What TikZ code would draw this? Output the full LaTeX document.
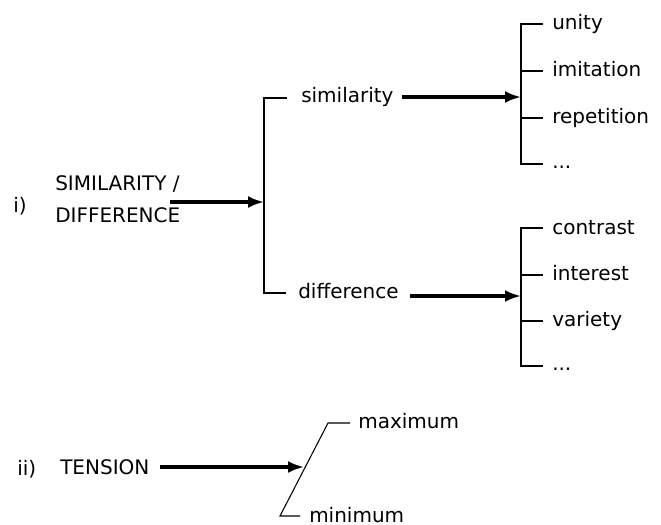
\documentclass[tikz,border=0pt]{standalone}
\usepackage{fontspec}
\setmainfont{DejaVu Sans}
\usetikzlibrary{arrows.meta}
\begin{document}
\begin{tikzpicture}[x=0.75pt,y=-0.75pt,
  lbl/.style={anchor=base west,inner sep=0pt,font=\fontsize{15}{18}\selectfont},
  br/.style={line width=1.5pt,line cap=rect},
  thinbr/.style={line width=0.8pt},
  arr/.style={line width=2.3pt,-{Latex[length=12pt,width=9pt]}}]
\useasboundingbox (0,0) rectangle (661,525);
% part i
\node[lbl] (i) at (13,212) {i)};
\node[lbl] (simA) at (55,190) {SIMILARITY /};
\node[lbl] (difA) at (55,222) {DIFFERENCE};
\coordinate (L1t) at (264,98);
\coordinate (L1b) at (264,293);
\draw[br] (L1t) ++(22,0) -- (L1t) -- (L1b) -- ++(21,0);
\coordinate (a1s) at (170,202);
\draw[arr] (a1s) -- (a1s -| L1t);
\node[lbl] (sim) at (301,102) {similarity};
\node[lbl] (dif) at (298,298) {difference};
% upper right bracket
\coordinate (R1t) at (521,24);
\coordinate (R1b) at (521,164);
\draw[br] (R1t) ++(21,0) -- (R1t) -- (R1b) -- ++(21,0);
\draw[br] (521,71) -- (542,71);
\draw[br] (521,118) -- (542,118);
\coordinate (a2s) at (402,97);
\draw[arr] (a2s) -- (a2s -| R1t);
\node[lbl] (u) at (552,29) {unity};
\node[lbl] (im) at (552,76) {imitation};
\node[lbl] (rep) at (552,123) {repetition};
\node[lbl] (d1) at (552,168) {...};
% lower right bracket
\coordinate (R2t) at (521,228);
\coordinate (R2b) at (521,366);
\draw[br] (R2t) ++(21,0) -- (R2t) -- (R2b) -- ++(21,0);
\draw[br] (521,275) -- (542,275);
\draw[br] (521,321) -- (542,321);
\coordinate (a3s) at (410,296);
\draw[arr] (a3s) -- (a3s -| R2t);
\node[lbl] (con) at (552,234) {contrast};
\node[lbl] (int) at (552,280) {interest};
\node[lbl] (var) at (552,326) {variety};
\node[lbl] (d2) at (552,370) {...};
% part ii
\node[lbl] (ii) at (17,475) {ii)};
\node[lbl] (ten) at (60,474) {TENSION};
\coordinate (Tt) at (328,423);
\coordinate (Tb) at (280,516);
\draw[thinbr] (Tt) ++(22,0) -- (Tt) -- (Tb) -- ++(20,0);
\coordinate (a4s) at (160,467);
\coordinate (a4e) at (304,467);
\draw[arr] (a4s) -- (a4e);
\node[lbl] (max) at (358,428) {maximum};
\node[lbl] (min) at (309,522) {minimum};
\end{tikzpicture}
\end{document}
